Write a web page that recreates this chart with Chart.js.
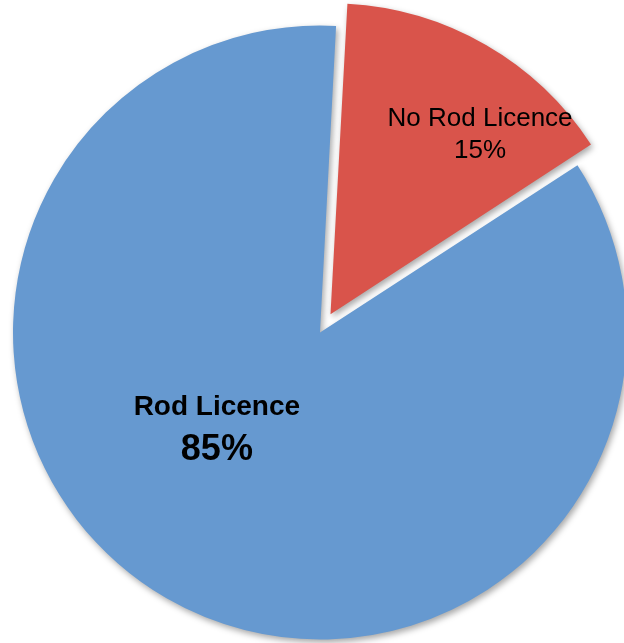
<!DOCTYPE html>
<html>
<head>
<meta charset="utf-8">
<title>Rod Licence</title>
<script src="https://cdn.jsdelivr.net/npm/chart.js@4.4.1/dist/chart.umd.min.js"></script>
<style>
  html, body { margin: 0; padding: 0; background: #fff; }
  canvas { display: block; }
</style>
</head>
<body>
<canvas id="licenceChart" width="624" height="643"></canvas>
<script>
const categories = ['No Rod Licence', 'Rod Licence'];
const shares = [15, 85];

// where each slice label sits: angle clockwise from 12 o'clock, distance from pie centre
const labelSpots = [
    { angle: 40, dist: 249, nameFont: '26px "Liberation Sans", Arial', pctFont: '26px "Liberation Sans", Arial', nameDy: -16, pctDy: 16 },
    { angle: 227, dist: 141, nameFont: 'bold 28px "Liberation Sans", Arial', pctFont: 'bold 36px "Liberation Sans", Arial', nameDy: -14, pctDy: 31 }
];

function sliceFill(context) {
    const chart = context.chart;
    const ctx = chart.ctx;
    const arc = chart.getDatasetMeta(0).data[context.dataIndex];
    if (!arc || !arc.outerRadius) {
        return context.dataIndex === 0 ? '#d9544b' : '#6699d0';
    }
    if (context.dataIndex === 0) {
        const g = ctx.createLinearGradient(0, arc.y - arc.outerRadius, 0, arc.y);
        g.addColorStop(0, '#e35c52');
        g.addColorStop(1, '#c24840');
        return g;
    }
    const g = ctx.createRadialGradient(arc.x, arc.y, 0, arc.x, arc.y, arc.outerRadius);
    g.addColorStop(0, '#6a9cd3');
    g.addColorStop(0.9, '#6698cf');
    g.addColorStop(1, '#5c8dc4');
    return g;
}

const sliceShadow = {
    id: 'sliceShadow',
    beforeDatasetsDraw(chart) {
        const ctx = chart.ctx;
        ctx.save();
        ctx.shadowColor = 'rgba(0, 0, 0, 0.35)';
        ctx.shadowBlur = 6;
        ctx.shadowOffsetX = 2;
        ctx.shadowOffsetY = 3;
    },
    afterDatasetsDraw(chart) {
        chart.ctx.restore();
    }
};

const sliceLabels = {
    id: 'sliceLabels',
    afterDatasetsDraw(chart) {
        const ctx = chart.ctx;
        const arcs = chart.getDatasetMeta(0).data;
        const values = chart.data.datasets[0].data;
        ctx.save();
        ctx.fillStyle = '#000';
        ctx.textAlign = 'center';
        ctx.textBaseline = 'alphabetic';
        arcs.forEach((arc, i) => {
            const spot = labelSpots[i];
            const a = (spot.angle - 90) * Math.PI / 180;
            const x = arc.x + Math.cos(a) * spot.dist;
            const y = arc.y + Math.sin(a) * spot.dist;
            ctx.font = spot.nameFont;
            ctx.fillText(chart.data.labels[i], x, y + spot.nameDy);
            ctx.font = spot.pctFont;
            ctx.fillText(values[i] + '%', x, y + spot.pctDy);
        });
        ctx.restore();
    }
};

new Chart(document.getElementById('licenceChart'), {
    type: 'pie',
    data: {
        labels: categories,
        datasets: [{
            data: shares,
            backgroundColor: sliceFill,
            borderWidth: 0,
            offset: [84, 0],
            clip: false
        }]
    },
    options: {
        responsive: false,
        animation: false,
        rotation: 3,
        radius: 307,
        layout: { padding: { left: 16, top: 22 } },
        plugins: {
            legend: { display: false },
            tooltip: { enabled: false }
        }
    },
    plugins: [sliceShadow, sliceLabels]
});
</script>
</body>
</html>
